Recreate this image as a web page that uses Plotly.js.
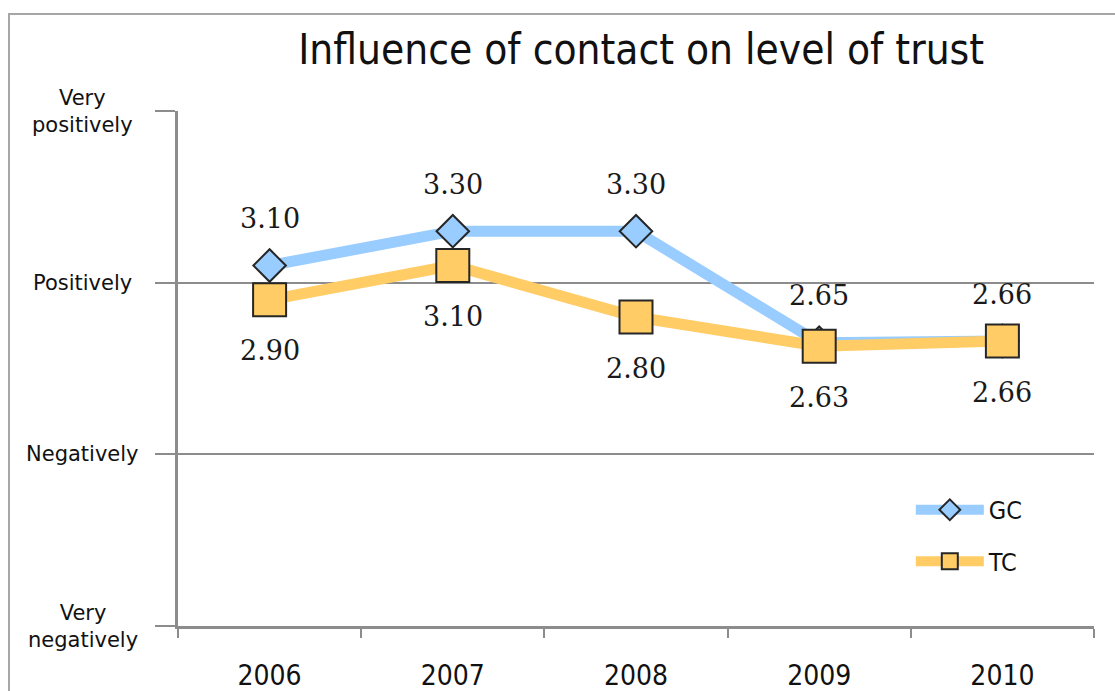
<!DOCTYPE html>
<html>
<head>
<meta charset="utf-8">
<script src="https://cdn.plot.ly/plotly-3.0.1.min.js"></script>
<style>
  html, body { margin: 0; padding: 0; background: #fff; }
  #wrap { position: relative; width: 1115px; height: 691px; overflow: hidden; }
  #frame { position: absolute; left: 8px; top: 13px; width: 1200px; height: 800px;
           border-left: 2px solid #a6a6a6; border-top: 2px solid #a6a6a6; }
  #chart { position: absolute; left: 0; top: 0; width: 1115px; height: 691px; }
</style>
</head>
<body>
<div id="wrap">
  <div id="frame"></div>
  <div id="chart"></div>
</div>
<script>
// ---- data ----
const years = ["2006", "2007", "2008", "2009", "2010"];
const gcValues = [3.10, 3.30, 3.30, 2.65, 2.66];
const tcValues = [2.90, 3.10, 2.80, 2.63, 2.66];
const levelValues = [1, 2, 3, 4];
const levelLabels = ["Very<br>negatively", "Negatively", "Positively", "Very<br>positively"];
const seriesNames = ["GC", "TC"];
const titleText = "Influence of contact on level of trust";

// ---- styling ----
const blue = "#99CCFF";
const orange = "#FFCC66";
const outline = "#262626";
const grid = "#8c8c8c";
const sansFont = "DejaVu Sans Condensed, DejaVu Sans, sans-serif";

function labelAnn(i, value, shift) {
  return {
    xref: "x", yref: "y", x: i, y: value, text: value.toFixed(2), showarrow: false,
    yshift: shift, xanchor: "center", yanchor: "middle",
    font: { family: "DejaVu Serif, Liberation Serif, serif", size: 27, color: "#1a1a1a" }
  };
}

const traces = [
  {
    x: years, y: gcValues, name: seriesNames[0], type: "scatter", mode: "lines+markers",
    line: { color: blue, width: 11 },
    marker: { symbol: "diamond", size: 25, color: blue, line: { color: outline, width: 2 } },
    legendgroup: "g1", hoverinfo: "skip"
  },
  {
    x: years, y: tcValues, name: seriesNames[1], type: "scatter", mode: "lines+markers",
    line: { color: orange, width: 11 },
    marker: { symbol: "square", size: 33, color: orange, line: { color: outline, width: 2 } },
    legendgroup: "g2", hoverinfo: "skip"
  }
];

const annotations = [];
years.forEach((yr, i) => {
  annotations.push(labelAnn(i, gcValues[i], 47));
  annotations.push(labelAnn(i, tcValues[i], -51));
});
levelValues.forEach((v, i) => {
  annotations.push({
    xref: "paper", yref: "y", x: -0.104, y: v, text: levelLabels[i], showarrow: false,
    xanchor: "center", yanchor: "middle", align: "center",
    font: { family: "DejaVu Sans, sans-serif", size: 21, color: "#111" }
  });
});

const layout = {
  width: 1115, height: 691,
  margin: { l: 178, r: 21, t: 111, b: 65, pad: 0 },
  paper_bgcolor: "rgba(0,0,0,0)", plot_bgcolor: "rgba(0,0,0,0)",
  title: {
    text: titleText, x: 0.575, xanchor: "center", xref: "container",
    y: 0.928, yanchor: "middle", yref: "container",
    font: { family: sansFont, size: 42, color: "#111" }
  },
  xaxis: {
    type: "category", range: [-0.5, 4.5], showline: true, linecolor: grid, linewidth: 3,
    ticks: "outside", tickson: "boundaries", ticklen: 9, tickwidth: 2, tickcolor: grid,
    showgrid: false, zeroline: false, fixedrange: true,
    tickfont: { family: sansFont, size: 28, color: "#111" }, ticklabelstandoff: 22
  },
  yaxis: {
    range: [1, 4], tickvals: levelValues, showticklabels: false,
    showline: true, linecolor: grid, linewidth: 3,
    ticks: "outside", ticklen: 20, tickwidth: 2, tickcolor: grid,
    showgrid: true, gridcolor: grid, gridwidth: 2, zeroline: false, fixedrange: true
  },
  legend: {
    x: 0.80, y: 0.27, xanchor: "left", yanchor: "top",
    bgcolor: "rgba(0,0,0,0)", tracegroupgap: 16, itemwidth: 68,
    font: { family: sansFont, size: 25, color: "#111" }
  },
  showlegend: true,
  annotations: annotations
};

Plotly.newPlot("chart", traces, layout, { displayModeBar: false, staticPlot: true });
</script>
</body>
</html>
